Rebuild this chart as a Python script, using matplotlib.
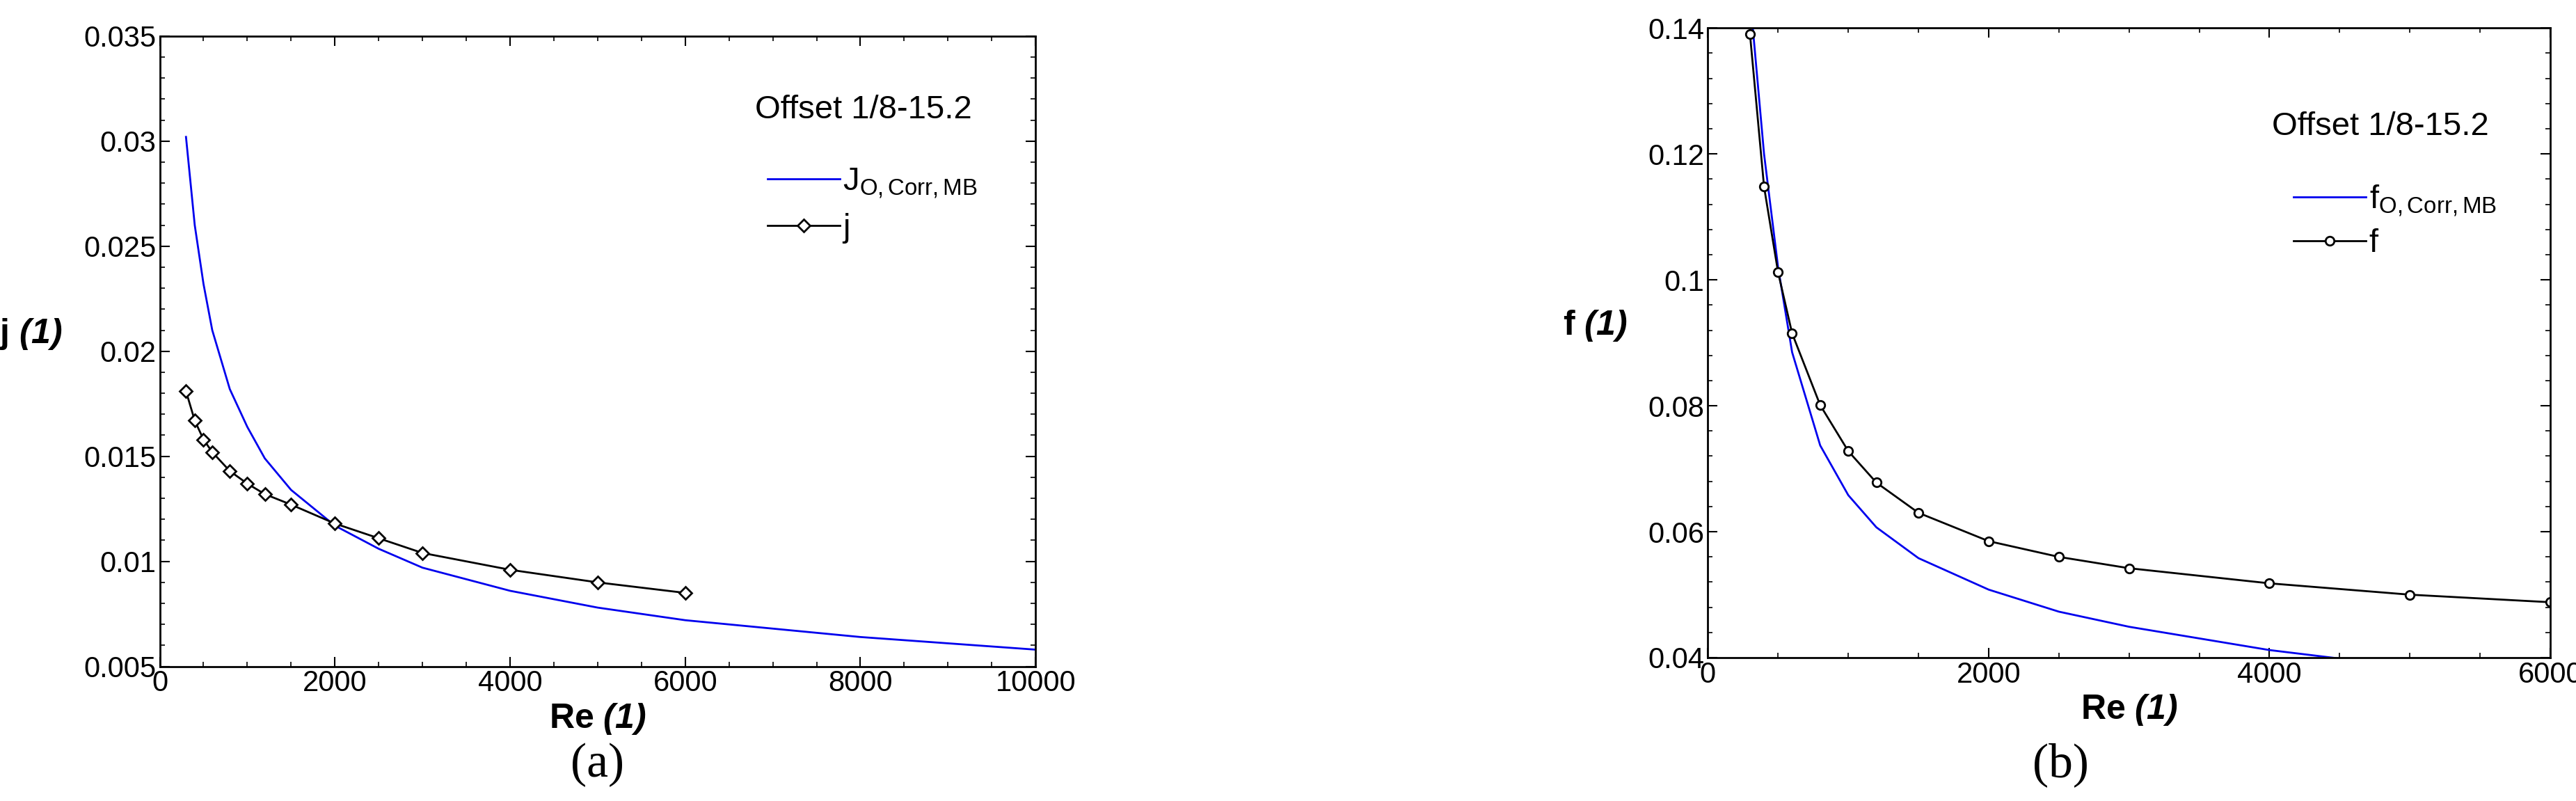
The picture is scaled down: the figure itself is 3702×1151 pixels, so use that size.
import matplotlib
matplotlib.use("Agg")
import matplotlib.pyplot as plt
from matplotlib.ticker import AutoMinorLocator

plt.rcParams['font.family'] = ['Liberation Sans', 'DejaVu Sans']
plt.rcParams['mathtext.fontset'] = 'custom'
plt.rcParams['mathtext.rm'] = 'Liberation Sans'
plt.rcParams['mathtext.it'] = 'Liberation Sans:italic'
plt.rcParams['mathtext.bf'] = 'Liberation Sans:bold'
plt.rcParams['mathtext.bfit'] = 'Liberation Sans:bold:italic'

re_exp = [300, 400, 500, 600, 800, 1000, 1200, 1500, 2000, 2500, 3000, 4000, 5000, 6000]
j_exp = [0.0181, 0.0167, 0.0158, 0.0152, 0.0143, 0.0137, 0.0132, 0.0127, 0.0118,
         0.0111, 0.0104, 0.0096, 0.0090, 0.0085]
f_exp = [0.139, 0.1148, 0.1012, 0.0915, 0.0801, 0.0728, 0.0678, 0.0630, 0.0585,
         0.0560, 0.0542, 0.0518, 0.0500, 0.0488]

re_corr = [300, 400, 500, 600, 800, 1000, 1200, 1500, 2000, 2500, 3000, 4000, 5000, 6000, 8000, 10000]
j_corr = [0.0302, 0.0260, 0.0232, 0.0210, 0.0182, 0.0164, 0.0149, 0.0134, 0.0117,
          0.0106, 0.0097, 0.0086, 0.0078, 0.0072, 0.0064, 0.0058]
f_corr = [0.145, 0.120, 0.102, 0.0885, 0.0737, 0.0658, 0.0607, 0.0558, 0.0508,
          0.0473, 0.0449, 0.0412, 0.0385, 0.0365, 0.0335, 0.0312]

fig = plt.figure(figsize=(37.02, 11.51), dpi=100)
ax1 = fig.add_axes([0.062, 0.168, 0.340, 0.787])
ax2 = fig.add_axes([0.663, 0.179, 0.327, 0.786])


def style(ax):
    ax.xaxis.set_minor_locator(AutoMinorLocator(4))
    ax.yaxis.set_minor_locator(AutoMinorLocator(5))
    ax.tick_params(which='both', direction='in', top=True, right=True, labelsize=30)
    ax.tick_params(which='major', length=10, width=1.5)
    ax.tick_params(which='minor', length=5, width=1.2)
    for s in ax.spines.values():
        s.set_linewidth(2)


ax1.plot(re_corr, j_corr, color='#0000ee', lw=2, label=r'J$_{\mathregular{O,Corr,MB}}$')
ax1.plot(re_exp, j_exp, color='black', lw=2, marker='D', ms=9, mfc='white', mew=2, label='j')
ax1.set_xlim(0, 10000)
ax1.set_ylim(0.005, 0.035)
ax1.set_xticks(range(0, 10001, 2000))
ax1.set_yticks([0.005, 0.01, 0.015, 0.02, 0.025, 0.03, 0.035])
ax1.set_yticklabels(['0.005', '0.01', '0.015', '0.02', '0.025', '0.03', '0.035'])
style(ax1)
ax1.set_xlabel(r'$\mathbf{Re}$ $\mathbfit{(1)}$', fontsize=36)
ax1.set_ylabel(r'$\mathbf{j}$ $\mathbfit{(1)}$', fontsize=36, rotation=0, labelpad=55)
ax1.text(0.68, 0.87, 'Offset 1/8-15.2', transform=ax1.transAxes, fontsize=34)
ax1.legend(loc='upper left', bbox_to_anchor=(0.66, 0.84), frameon=False, fontsize=34,
           handlelength=2.2, handletextpad=0.1, labelspacing=0.4)
fig.text(0.232, 0.03, '(a)', ha='center', fontsize=50, family='Liberation Serif')

ax2.plot(re_corr, f_corr, color='#0000ee', lw=2, label=r'f$_{\mathregular{O,Corr,MB}}$')
ax2.plot(re_exp, f_exp, color='black', lw=2, marker='o', ms=9, mfc='white', mew=2, label='f')
ax2.set_xlim(0, 6000)
ax2.set_ylim(0.04, 0.14)
ax2.set_xticks(range(0, 6001, 2000))
ax2.set_yticks([0.04, 0.06, 0.08, 0.1, 0.12, 0.14])
ax2.set_yticklabels(['0.04', '0.06', '0.08', '0.1', '0.12', '0.14'])
style(ax2)
ax2.set_xlabel(r'$\mathbf{Re}$ $\mathbfit{(1)}$', fontsize=36)
ax2.set_ylabel(r'$\mathbf{f}$ $\mathbfit{(1)}$', fontsize=36, rotation=0, labelpad=55)
ax2.text(0.67, 0.83, 'Offset 1/8-15.2', transform=ax2.transAxes, fontsize=34)
ax2.legend(loc='upper left', bbox_to_anchor=(0.66, 0.80), frameon=False, fontsize=34,
           handlelength=2.2, handletextpad=0.1, labelspacing=0.3)
fig.text(0.80, 0.03, '(b)', ha='center', fontsize=50, family='Liberation Serif')

fig.savefig('out.png', dpi=100, facecolor='white')
